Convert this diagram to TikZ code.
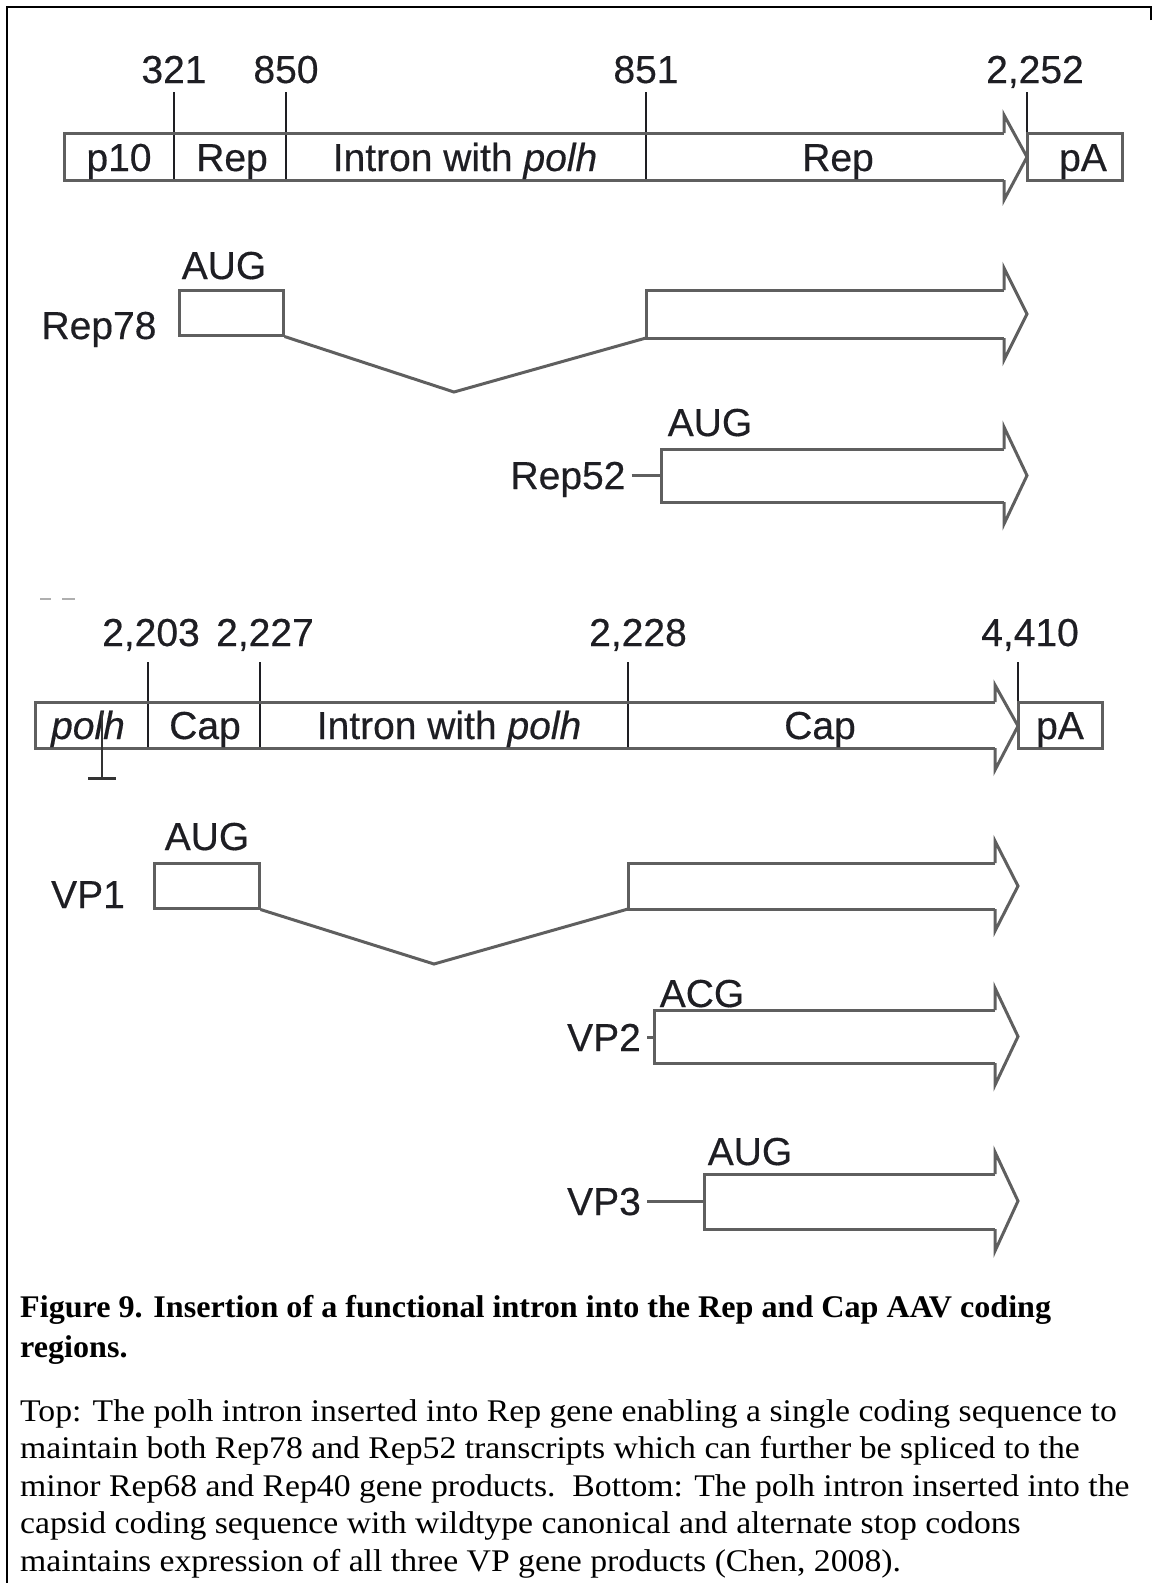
\documentclass[tikz,border=0pt]{standalone}
\usepackage{fontspec}
\setmainfont[FakeStretch=1.07]{Liberation Serif}
\newfontfamily\capbold[FakeStretch=1.02]{Liberation Serif Bold}
\newfontfamily\diagfont[FakeBold=0.4]{Liberation Sans}
\definecolor{linegray}{RGB}{95,95,95}
\definecolor{textgray}{RGB}{30,30,35}
\tikzset{
  seg/.style={draw=linegray,line width=3pt,line join=miter},
  tickline/.style={draw=textgray,line width=2pt},
  lab/.style={font=\diagfont\fontsize{39}{44}\selectfont,text=textgray,inner sep=0pt,anchor=base},
  exon/.style={draw=linegray,line width=3pt,inner sep=0pt},
}
\begin{document}
\begin{tikzpicture}[x=1pt,y=-1pt]
\useasboundingbox (0,0) rectangle (1155,1583);
\draw[line width=2.5pt] (1151,20) -- (1151,7) -- (7,7) -- (7,1583);

\node [lab,name=n321] at (174,83){321};
\node [lab,name=n850] at (286,83){850};
\node [lab,name=n851] at (646,83){851};
\node [lab,name=n2252] at (1035,83){2,252};
\draw[tickline] (174,92) -- (174,180);
\draw[tickline] (286,92) -- (286,180);
\draw[tickline] (646,92) -- (646,180);
\draw[tickline] (1027,92) -- (1027,133);
\draw[seg] (1004,133) -- (64,133) -- (64,180) -- (1004,180);
\draw[seg] (1004,133) -- (1004,115) -- (1027,157) -- (1004,200) -- (1004,180);
\draw[seg] (1027,133) -- (1122,133) -- (1122,180) -- (1027,180) -- cycle;
\node [lab,name=p10] at (119,171){p10};
\node [lab,name=rep1] at (232,171){Rep};
\node [lab,name=intron1] at (465,171){Intron with \textit{polh}};
\node [lab,name=rep2] at (838,171){Rep};
\node [lab,name=pa1] at (1083,171){pA};

\node [lab,name=rep78] at (99,339){Rep78};
\node [exon,name=aug78box,minimum width=104pt,minimum height=45pt] at (231,312.5){};
\node [lab,name=aug78] at (224,279){AUG};
\coordinate (rep78start) at (646,338);
\draw[seg] (aug78box.south east) -- (454,392) -- (rep78start);
\draw[seg] (1004,290) -- (646,290) -- (646,338) -- (1004,338);
\draw[seg] (1004,290) -- (1004,268) -- (1027,314) -- (1004,360) -- (1004,338);

\node [lab,name=rep52] at (568,489){Rep52};
\node [lab,name=aug52] at (710,436){AUG};
\coordinate (rep52start) at (661,475);
\draw[seg] (rep52.east |- rep52start) ++(6,0) -- (rep52start);
\draw[seg] (1004,449) -- (661,449) -- (661,502) -- (1004,502);
\draw[seg] (1004,449) -- (1004,427) -- (1027,475.5) -- (1004,524) -- (1004,502);

\draw[draw=linegray!50,line width=2pt] (40,599) -- (51,599);
\draw[draw=linegray!50,line width=2pt] (62,599) -- (75,599);

\node [lab,name=n2203] at (151,646){2,203};
\node [lab,name=n2227] at (265,646){2,227};
\node [lab,name=n2228] at (638,646){2,228};
\node [lab,name=n4410] at (1030,646){4,410};
\draw[tickline] (148,662) -- (148,748);
\draw[tickline] (260,662) -- (260,748);
\draw[tickline] (628,662) -- (628,748);
\draw[tickline] (1018,662) -- (1018,702);
\draw[seg] (995,702) -- (35,702) -- (35,748) -- (995,748);
\draw[seg] (995,702) -- (995,685) -- (1018,726) -- (995,770) -- (995,748);
\draw[seg] (1018,702) -- (1102,702) -- (1102,748) -- (1018,748) -- cycle;
\node [lab,name=polh] at (88,739){\textit{polh}};
\node [lab,name=cap1] at (205,739){Cap};
\node [lab,name=intron2] at (449,739){Intron with \textit{polh}};
\node [lab,name=cap2] at (820,739){Cap};
\node [lab,name=pa2] at (1060,739){pA};
\draw[line width=2pt,draw=black!80] (102,712) -- (102,777);
\draw[line width=3pt,draw=black!80] (88,778) -- (116,778);

\node [lab,name=vp1] at (88,908){VP1};
\node [exon,name=aug1box,minimum width=105pt,minimum height=45pt] at (206.5,885.5){};
\node [lab,name=aug1] at (207,850){AUG};
\coordinate (vp1start) at (628,909);
\draw[seg] (aug1box.south east) -- (434,964) -- (vp1start);
\draw[seg] (995,863) -- (628,863) -- (628,909) -- (995,909);
\draw[seg] (995,863) -- (995,841) -- (1018,886) -- (995,931) -- (995,909);

\node [lab,name=vp2] at (604,1051){VP2};
\node [lab,name=acg2] at (702,1007){ACG};
\coordinate (vp2start) at (654,1037);
\draw[seg] (vp2.east |- vp2start) ++(6,0) -- (vp2start);
\draw[seg] (995,1010) -- (654,1010) -- (654,1063) -- (995,1063);
\draw[seg] (995,1010) -- (995,988) -- (1018,1036.5) -- (995,1085) -- (995,1063);

\node [lab,name=vp3] at (604,1215){VP3};
\node [lab,name=aug3] at (750,1165){AUG};
\coordinate (vp3start) at (704,1201);
\draw[seg] (vp3.east |- vp3start) ++(6,0) -- (vp3start);
\draw[seg] (995,1174) -- (704,1174) -- (704,1229) -- (995,1229);
\draw[seg] (995,1174) -- (995,1152) -- (1018,1201) -- (995,1251) -- (995,1229);

\node [anchor=base west,align=left,inner sep=0pt,name=title,font=\capbold\fontsize{31.5}{40}\selectfont] at (20,1357){Figure 9. Insertion of a functional intron into the Rep and Cap AAV coding\\regions.};
\node [anchor=base west,align=left,inner sep=0pt,name=legend,font=\fontsize{31.5}{37.5}\selectfont] at (20,1571){Top: The polh intron inserted into Rep gene enabling a single coding sequence to\\maintain both Rep78 and Rep52 transcripts which can further be spliced to the\\minor Rep68 and Rep40 gene products.\ \ Bottom: The polh intron inserted into the\\capsid coding sequence with wildtype canonical and alternate stop codons\\maintains expression of all three VP gene products (Chen, 2008).};
\end{tikzpicture}
\end{document}
